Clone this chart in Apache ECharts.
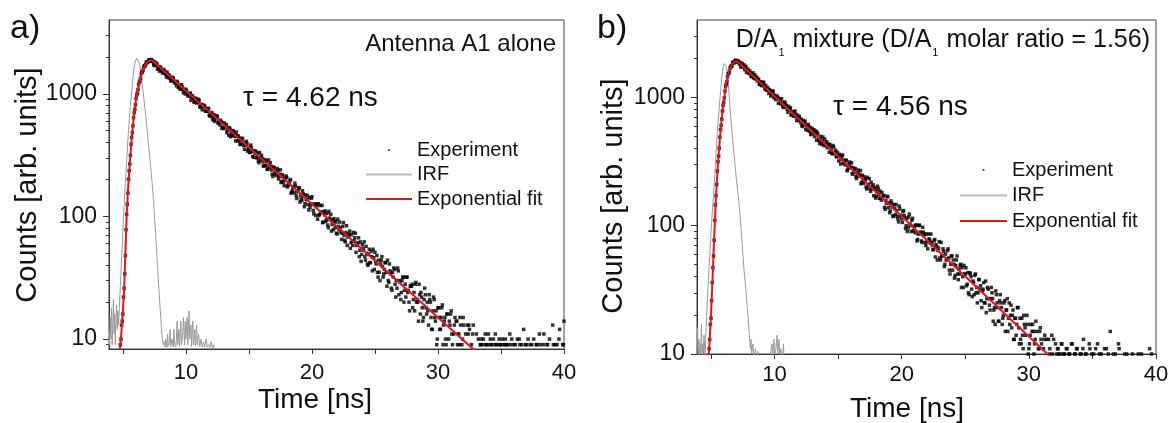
<!DOCTYPE html>
<html>
<head>
<meta charset="utf-8">
<title>Fluorescence decay</title>
<script src="https://cdn.jsdelivr.net/npm/echarts@6/dist/echarts.min.js"></script>
<style>
    html, body { margin: 0; padding: 0; background: #fff; }
    #chart { width: 1169px; height: 423px; }
</style>
</head>
<body>
<div id="chart"></div>
<script>
(function () {
    'use strict';

    // TCSPC channel times [ns], shared by both panels
    var binTimes = [
        4.8, 4.9, 5.0, 5.1, 5.2, 5.3, 5.4, 5.5, 5.6, 5.7,
        5.8, 5.9, 6.0, 6.1, 6.2, 6.3, 6.4, 6.5, 6.6, 6.7,
        6.8, 6.9, 7.0, 7.1, 7.2, 7.3, 7.4, 7.5, 7.6, 7.7,
        7.8, 7.9, 8.0, 8.1, 8.2, 8.3, 8.4, 8.5, 8.6, 8.7,
        8.8, 8.9, 9.0, 9.1, 9.2, 9.3, 9.4, 9.5, 9.6, 9.7,
        9.8, 9.9, 10.0, 10.1, 10.2, 10.3, 10.4, 10.5, 10.6, 10.7,
        10.8, 10.9, 11.0, 11.1, 11.2, 11.3, 11.4, 11.5, 11.6, 11.7,
        11.8, 11.9, 12.0, 12.1, 12.2, 12.3, 12.4, 12.5, 12.6, 12.7,
        12.8, 12.9, 13.0, 13.1, 13.2, 13.3, 13.4, 13.5, 13.6, 13.7,
        13.8, 13.9, 14.0, 14.1, 14.2, 14.3, 14.4, 14.5, 14.6, 14.7,
        14.8, 14.9, 15.0, 15.1, 15.2, 15.3, 15.4, 15.5, 15.6, 15.7,
        15.8, 15.9, 16.0, 16.1, 16.2, 16.3, 16.4, 16.5, 16.6, 16.7,
        16.8, 16.9, 17.0, 17.1, 17.2, 17.3, 17.4, 17.5, 17.6, 17.7,
        17.8, 17.9, 18.0, 18.1, 18.2, 18.3, 18.4, 18.5, 18.6, 18.7,
        18.8, 18.9, 19.0, 19.1, 19.2, 19.3, 19.4, 19.5, 19.6, 19.7,
        19.8, 19.9, 20.0, 20.1, 20.2, 20.3, 20.4, 20.5, 20.6, 20.7,
        20.8, 20.9, 21.0, 21.1, 21.2, 21.3, 21.4, 21.5, 21.6, 21.7,
        21.8, 21.9, 22.0, 22.1, 22.2, 22.3, 22.4, 22.5, 22.6, 22.7,
        22.8, 22.9, 23.0, 23.1, 23.2, 23.3, 23.4, 23.5, 23.6, 23.7,
        23.8, 23.9, 24.0, 24.1, 24.2, 24.3, 24.4, 24.5, 24.6, 24.7,
        24.8, 24.9, 25.0, 25.1, 25.2, 25.3, 25.4, 25.5, 25.6, 25.7,
        25.8, 25.9, 26.0, 26.1, 26.2, 26.3, 26.4, 26.5, 26.6, 26.7,
        26.8, 26.9, 27.0, 27.1, 27.2, 27.3, 27.4, 27.5, 27.6, 27.7,
        27.8, 27.9, 28.0, 28.1, 28.2, 28.3, 28.4, 28.5, 28.6, 28.7,
        28.8, 28.9, 29.0, 29.1, 29.2, 29.3, 29.4, 29.5, 29.6, 29.7,
        29.8, 29.9, 30.0, 30.1, 30.2, 30.3, 30.4, 30.5, 30.6, 30.7,
        30.8, 30.9, 31.0, 31.1, 31.2, 31.3, 31.4, 31.5, 31.6, 31.7,
        31.8, 31.9, 32.0, 32.1, 32.2, 32.3, 32.4, 32.5, 32.6, 32.7,
        32.8, 32.9, 33.0, 33.1, 33.2, 33.3, 33.4, 33.5, 33.6, 33.7,
        33.8, 33.9, 34.0, 34.1, 34.2, 34.3, 34.4, 34.5, 34.6, 34.7,
        34.8, 34.9, 35.0, 35.1, 35.2, 35.3, 35.4, 35.5, 35.6, 35.7,
        35.8, 35.9, 36.0, 36.1, 36.2, 36.3, 36.4, 36.5, 36.6, 36.7,
        36.8, 36.9, 37.0, 37.1, 37.2, 37.3, 37.4, 37.5, 37.6, 37.7,
        37.8, 37.9, 38.0, 38.1, 38.2, 38.3, 38.4, 38.5, 38.6, 38.7,
        38.8, 38.9, 39.0, 39.1, 39.2, 39.3, 39.4, 39.5, 39.6, 39.7,
        39.8, 39.9, 40.0
    ];

    // the in-between channels (odd half-steps of the same histogram)
    var halfTimes = [
        4.85, 4.95, 5.05, 5.15, 5.25, 5.35, 5.45, 5.55, 5.65, 5.75,
        5.85, 5.95, 6.05, 6.15, 6.25, 6.35, 6.45, 6.55, 6.65, 6.75,
        6.85, 6.95, 7.05, 7.15, 7.25, 7.35, 7.45, 7.55, 7.65, 7.75,
        7.85, 7.95, 8.05, 8.15, 8.25, 8.35, 8.45, 8.55, 8.65, 8.75,
        8.85, 8.95, 9.05, 9.15, 9.25, 9.35, 9.45, 9.55, 9.65, 9.75,
        9.85, 9.95, 10.05, 10.15, 10.25, 10.35, 10.45, 10.55, 10.65, 10.75,
        10.85, 10.95, 11.05, 11.15, 11.25, 11.35, 11.45, 11.55, 11.65, 11.75,
        11.85, 11.95, 12.05, 12.15, 12.25, 12.35, 12.45, 12.55, 12.65, 12.75,
        12.85, 12.95, 13.05, 13.15, 13.25, 13.35, 13.45, 13.55, 13.65, 13.75,
        13.85, 13.95, 14.05, 14.15, 14.25, 14.35, 14.45, 14.55, 14.65, 14.75,
        14.85, 14.95, 15.05, 15.15, 15.25, 15.35, 15.45, 15.55, 15.65, 15.75,
        15.85, 15.95, 16.05, 16.15, 16.25, 16.35, 16.45, 16.55, 16.65, 16.75,
        16.85, 16.95, 17.05, 17.15, 17.25, 17.35, 17.45, 17.55, 17.65, 17.75,
        17.85, 17.95, 18.05, 18.15, 18.25, 18.35, 18.45, 18.55, 18.65, 18.75,
        18.85, 18.95, 19.05, 19.15, 19.25, 19.35, 19.45, 19.55, 19.65, 19.75,
        19.85, 19.95, 20.05, 20.15, 20.25, 20.35, 20.45, 20.55, 20.65, 20.75,
        20.85, 20.95, 21.05, 21.15, 21.25, 21.35, 21.45, 21.55, 21.65, 21.75,
        21.85, 21.95, 22.05, 22.15, 22.25, 22.35, 22.45, 22.55, 22.65, 22.75,
        22.85, 22.95, 23.05, 23.15, 23.25, 23.35, 23.45, 23.55, 23.65, 23.75,
        23.85, 23.95, 24.05, 24.15, 24.25, 24.35, 24.45, 24.55, 24.65, 24.75,
        24.85, 24.95, 25.05, 25.15, 25.25, 25.35, 25.45, 25.55, 25.65, 25.75,
        25.85, 25.95, 26.05, 26.15, 26.25, 26.35, 26.45, 26.55, 26.65, 26.75,
        26.85, 26.95, 27.05, 27.15, 27.25, 27.35, 27.45, 27.55, 27.65, 27.75,
        27.85, 27.95, 28.05, 28.15, 28.25, 28.35, 28.45, 28.55, 28.65, 28.75,
        28.85, 28.95, 29.05, 29.15, 29.25, 29.35, 29.45, 29.55, 29.65, 29.75,
        29.85, 29.95, 30.05, 30.15, 30.25, 30.35, 30.45, 30.55, 30.65, 30.75,
        30.85, 30.95, 31.05, 31.15, 31.25, 31.35, 31.45, 31.55, 31.65, 31.75,
        31.85, 31.95, 32.05, 32.15, 32.25, 32.35, 32.45, 32.55, 32.65, 32.75,
        32.85, 32.95, 33.05, 33.15, 33.25, 33.35, 33.45, 33.55, 33.65, 33.75,
        33.85, 33.95, 34.05, 34.15, 34.25, 34.35, 34.45, 34.55, 34.65, 34.75,
        34.85, 34.95, 35.05, 35.15, 35.25, 35.35, 35.45, 35.55, 35.65, 35.75,
        35.85, 35.95, 36.05, 36.15, 36.25, 36.35, 36.45, 36.55, 36.65, 36.75,
        36.85, 36.95, 37.05, 37.15, 37.25, 37.35, 37.45, 37.55, 37.65, 37.75,
        37.85, 37.95, 38.05, 38.15, 38.25, 38.35, 38.45, 38.55, 38.65, 38.75,
        38.85, 38.95, 39.05, 39.15, 39.25, 39.35, 39.45, 39.55, 39.65, 39.75,
        39.85, 39.95
    ];

    // a) antenna A1 alone, counts per channel
    var countsA = [
        9, 13, 16, 26, 48, 104, 155, 236, 315, 442, 548, 702, 815, 978, 1085, 1247, 1342, 1497, 1560, 1689,
        1725, 1822, 1829, 1893, 1861, 1874,
        1843, 1699, 1741, 1765, 1634, 1532, 1628, 1557, 1487, 1536,
        1447, 1507, 1354, 1386, 1278, 1334, 1332, 1232, 1225, 1264,
        1124, 1161, 1093, 1145, 1021, 1075, 1088, 1005, 956, 998,
        884, 967, 918, 870, 915, 850, 903, 789, 821, 741,
        790, 794, 721, 721, 757, 658, 684, 641, 677, 596,
        635, 650, 590, 557, 591, 581, 520, 545, 563, 507,
        460, 516, 486, 457, 490, 449, 487, 413, 437, 386,
        421, 429, 378, 381, 410, 341, 364, 335, 364, 308,
        304, 327, 300, 329, 274, 304, 315, 280, 261, 284,
        281, 242, 261, 275, 239, 212, 249, 231, 216, 237,
        213, 240, 193, 210, 178, 203, 208, 179, 182, 200,
        157, 174, 156, 177, 140, 163, 171, 147, 135, 153,
        120, 150, 137, 125, 142, 126, 145, 112, 125, 102,
        122, 127, 104, 107, 123, 90, 103, 91, 106, 81,
        97, 104, 86, 78, 91, 90, 72, 83, 90, 74,
        73, 89, 64, 74, 58, 72, 76, 61, 63, 74,
        67, 51, 60, 67, 53, 43, 59, 53, 47, 57,
        41, 49, 42, 52, 36, 46, 51, 41, 35, 44,
        30, 44, 39, 34, 42, 35, 44, 29, 36, 26,
        35, 38, 28, 30, 38, 23, 29, 24, 32, 20,
        28, 32, 24, 20, 27, 27, 18, 24, 28, 20,
        20, 28, 16, 22, 14, 21, 23, 16, 17, 23,
        20, 12, 17, 21, 14, 9, 18, 15, 12, 18,
        9, 14, 10, 16, 8, 14, 16, 11, 8, 13,
        6, 14, 11, 9, 13, 9, 15, 7, 11, 5,
        11, 12, 7, 8, 13, 5, 8, 6, 10, 4,
        9, 5, 10, 6, 9, 7, 11, 4, 9, 6,
        10, 5, 9, 7, 3, 9, 6, 10, 4, 9,
        5, 9, 3, 11, 6, 4, 9, 5, 7, 10,
        4, 9, 6, 3, 12, 5, 9, 4, 6, 9,
        3, 5, 10, 4, 9, 2, 6, 9, 4, 3,
        11, 5, 3, 9, 2, 6, 4, 13, 3, 9,
        5, 2, 10, 4, 3, 9, 14
    ];
    var countsA2 = [
        10, 14, 22, 34, 78, 126, 201, 268, 388, 483, 641, 748, 917, 1012, 1189, 1271, 1449, 1508, 1652, 1688,
        1801, 1795, 1887, 1852, 1906, 1829,
        1733, 1817, 1716, 1590, 1670, 1655, 1549, 1479, 1582, 1467,
        1372, 1441, 1426, 1335, 1276, 1366, 1264, 1260, 1163, 1226,
        1150, 1093, 1187, 1089, 1090, 997, 1062, 979, 992, 1016,
        939, 941, 852, 919, 842, 858, 883, 776, 795, 816,
        794, 726, 740, 761, 670, 686, 704, 612, 620, 665,
        661, 575, 592, 610, 524, 533, 578, 537, 483, 526,
        530, 447, 457, 502, 464, 413, 455, 454, 413, 388,
        435, 399, 353, 394, 393, 355, 332, 382, 338, 342,
        341, 341, 305, 284, 332, 292, 296, 257, 292, 259,
        243, 289, 251, 256, 221, 253, 222, 232, 246, 202,
        221, 189, 219, 190, 200, 214, 174, 184, 195, 155,
        163, 174, 187, 148, 159, 171, 131, 138, 162, 145,
        127, 138, 148, 113, 119, 141, 126, 105, 125, 127,
        95, 102, 123, 109, 89, 109, 111, 94, 85, 110,
        94, 76, 94, 96, 81, 73, 95, 78, 81, 65,
        83, 70, 62, 84, 68, 70, 55, 71, 58, 63,
        73, 58, 61, 47, 62, 49, 55, 62, 44, 50,
        40, 54, 42, 47, 54, 37, 43, 48, 32, 35,
        41, 47, 32, 37, 42, 27, 30, 41, 34, 25,
        32, 37, 22, 26, 36, 30, 21, 30, 32, 25,
        22, 32, 25, 17, 27, 28, 21, 17, 29, 21,
        14, 23, 24, 18, 15, 26, 18, 20, 13, 21,
        15, 12, 22, 15, 17, 10, 18, 12, 15, 19,
        13, 15, 9, 16, 10, 13, 17, 9, 11, 15,
        14, 9, 11, 15, 7, 10, 13, 5, 7, 13,
        13, 6, 9, 11, 4, 6, 11, 8, 4, 9,
        10, 9, 6, 11, 9, 5, 9, 10, 7, 9,
        4, 11, 9, 6, 10, 9, 5, 9, 7, 10,
        9, 4, 6, 9, 10, 5, 3, 9, 6, 4,
        10, 5, 9, 3, 6, 9, 4, 10, 3, 5,
        9, 2, 6, 4, 9, 3, 11, 2, 5, 9,
        3, 4, 9, 2, 10, 3, 5, 9, 2, 4,
        9, 3, 12, 2, 5, 9
    ];

    // b) D/A1 mixture, counts per channel
    var countsB = [
        9, 13, 19, 36, 58, 110, 171, 266, 348, 489, 604, 782, 912, 1117, 1262, 1446, 1531, 1689, 1732, 1851,
        1862, 1931, 1898, 1923, 1852,
        1868, 1732, 1737, 1788, 1699, 1564, 1656, 1532, 1550, 1449,
        1551, 1441, 1389, 1438, 1378, 1265, 1316, 1232, 1314, 1209,
        1236, 1136, 1144, 1151, 1023, 1054, 1101, 1035, 960, 1008,
        898, 977, 886, 906, 834, 920, 840, 805, 849, 809,
        728, 772, 711, 781, 704, 726, 661, 669, 675, 592,
        613, 652, 606, 553, 594, 578, 521, 530, 558, 523,
        463, 517, 460, 477, 432, 490, 440, 420, 450, 426,
        373, 408, 368, 421, 369, 387, 343, 351, 359, 302,
        349, 307, 315, 324, 268, 287, 313, 286, 255, 282,
        276, 240, 248, 271, 248, 212, 247, 214, 225, 200,
        238, 207, 195, 218, 203, 171, 194, 170, 203, 174,
        186, 158, 165, 172, 134, 149, 168, 151, 130, 150,
        119, 146, 122, 131, 113, 142, 120, 113, 129, 120,
        95, 114, 96, 123, 100, 110, 91, 96, 101, 76,
        86, 101, 89, 74, 89, 86, 70, 75, 86, 77,
        86, 70, 65, 78, 71, 54, 67, 56, 74, 58,
        63, 50, 54, 64, 56, 42, 58, 45, 50, 41,
        54, 42, 46, 49, 33, 40, 49, 42, 34, 43,
        29, 42, 32, 37, 29, 42, 33, 30, 38, 34,
        23, 32, 25, 37, 27, 32, 24, 27, 30, 18,
        23, 31, 25, 18, 26, 25, 17, 20, 26, 22,
        27, 19, 17, 24, 20, 13, 19, 14, 23, 16,
        19, 12, 14, 20, 16, 9, 17, 11, 14, 9,
        17, 10, 13, 15, 7, 11, 16, 12, 8, 13,
        6, 13, 7, 10, 6, 14, 9, 7, 12, 10,
        11, 7, 10, 12, 6, 10, 8, 11, 5, 10,
        7, 12, 6, 10, 4, 11, 8, 5, 10, 7,
        13, 6, 10, 4, 8, 11, 5, 7, 10, 3,
        6, 12, 4, 8, 10, 5, 3, 7, 11, 4,
        6, 15, 5, 8, 3, 10, 4, 6, 11, 2,
        5, 7, 3, 4, 10, 2, 6, 3, 5, 2,
        4, 7, 3, 10, 2, 5, 3, 6, 2, 4,
        3, 5, 11, 2, 4, 3, 6, 2
    ];
    var countsB2 = [
        11, 17, 26, 47, 77, 145, 209, 315, 402, 561, 676, 866, 991, 1215, 1327, 1522, 1583, 1741, 1762, 1882,
        1858, 1943, 1879, 1912, 1818,
        1719, 1836, 1734, 1641, 1741, 1641, 1558, 1604, 1460, 1514,
        1412, 1498, 1412, 1340, 1380, 1256, 1302, 1252, 1295, 1160,
        1148, 1192, 1073, 1123, 1076, 1124, 992, 999, 1029, 994,
        968, 925, 974, 846, 856, 889, 857, 764, 805, 826,
        729, 737, 766, 738, 658, 694, 711, 635, 601, 661,
        636, 561, 596, 615, 543, 512, 572, 531, 494, 546,
        533, 465, 436, 495, 457, 422, 472, 434, 404, 431,
        429, 393, 362, 410, 375, 347, 372, 319, 347, 329,
        355, 323, 297, 321, 272, 300, 282, 308, 252, 261,
        278, 233, 258, 243, 268, 217, 224, 241, 230, 193,
        210, 232, 185, 192, 208, 198, 164, 184, 194, 163,
        164, 181, 171, 139, 157, 169, 138, 126, 156, 139,
        118, 136, 146, 118, 107, 135, 120, 106, 131, 115,
        100, 90, 117, 103, 90, 114, 99, 88, 101, 78,
        100, 87, 76, 97, 84, 74, 86, 66, 79, 73,
        74, 65, 76, 57, 69, 64, 75, 54, 58, 66,
        48, 60, 55, 66, 45, 50, 58, 54, 39, 49,
        58, 38, 42, 50, 47, 33, 42, 47, 35, 30,
        43, 40, 28, 36, 41, 30, 25, 38, 32, 26,
        31, 36, 25, 21, 33, 27, 22, 33, 27, 22,
        17, 29, 23, 18, 29, 23, 19, 25, 15, 22,
        15, 25, 20, 16, 22, 13, 19, 17, 23, 12,
        13, 19, 11, 17, 14, 20, 10, 12, 17, 15,
        15, 12, 18, 8, 11, 15, 13, 7, 11, 14,
        7, 9, 13, 11, 5, 10, 13, 7, 5, 11,
        10, 6, 12, 8, 10, 5, 11, 7, 10, 4,
        12, 8, 6, 10, 11, 5, 7, 10, 3, 11,
        6, 10, 8, 4, 12, 6, 10, 5, 3, 11,
        7, 4, 10, 6, 2, 8, 11, 5, 3, 10,
        4, 7, 2, 10, 5, 3, 6, 12, 2, 4,
        7, 3, 10, 5, 2, 6, 4, 3, 10, 2,
        5, 3, 7, 2, 4, 10, 3, 2, 5, 6,
        2, 4, 3, 10, 2, 5, 3
    ];

    // instrument response [ns, counts]
    var irfA = [
        [3.9, 12], [3.95, 9], [4.0, 15], [4.05, 10], [4.1, 18], [4.15, 9], [4.2, 13], [4.25, 21], [4.3, 11], [4.35, 16],
        [4.4, 9], [4.45, 14], [4.5, 19], [4.55, 12], [4.6, 17], [4.65, 13], [4.7, 16], [4.8, 27], [4.9, 45], [5.0, 75],
        [5.1, 125], [5.2, 190], [5.3, 280], [5.4, 420], [5.5, 600], [5.6, 800], [5.7, 1050], [5.8, 1350], [5.9, 1650], [6.0, 1860],
        [6.1, 1950], [6.2, 1930], [6.3, 1800], [6.4, 1580], [6.5, 1300], [6.6, 1050], [6.7, 850], [6.8, 690], [6.9, 540], [7.0, 420],
        [7.1, 330], [7.2, 260], [7.3, 200], [7.4, 150], [7.5, 105], [7.6, 72], [7.7, 48], [7.8, 32], [7.9, 22], [8.0, 15],
        [8.1, 11], [8.2, 9], [8.3, 9.5], [8.35, 8.6], [8.4, 10], [8.5, 8.6], [8.55, 11], [8.6, 8.8], [8.7, 9.5], [8.75, 12],
        [8.8, 8.7], [8.9, 10], [9.0, 8.6], [9.05, 12], [9.1, 9], [9.2, 8.6], [9.25, 10], [9.3, 14], [9.35, 9], [9.45, 12],
        [9.5, 8.7], [9.6, 14], [9.65, 9], [9.75, 11], [9.8, 15], [9.9, 9], [9.95, 14], [10.0, 10], [10.1, 15], [10.15, 9],
        [10.25, 17], [10.3, 10], [10.4, 13], [10.45, 8.7], [10.55, 14], [10.6, 9], [10.7, 12], [10.75, 8.8], [10.85, 13], [10.9, 9],
        [11.0, 11], [11.1, 8.7], [11.2, 10], [11.3, 8.6], [11.4, 9.5], [11.5, 8.6], [11.6, 10], [11.7, 8.6], [11.8, 9], [11.9, 8.5],
        [12.0, 9.5], [12.1, 8.5], [12.2, 9], [12.3, 7]
    ];
    var irfB = [
        [3.9, 11], [3.95, 16], [4.0, 9], [4.05, 13], [4.1, 9.5], [4.15, 12], [4.2, 10], [4.25, 17], [4.3, 9], [4.35, 12],
        [4.4, 10], [4.45, 14], [4.5, 11], [4.55, 9.5], [4.6, 15], [4.65, 18], [4.7, 24], [4.75, 31], [4.8, 38], [4.9, 58],
        [5.0, 88], [5.1, 125], [5.2, 175], [5.3, 250], [5.4, 360], [5.5, 540], [5.6, 720], [5.7, 950], [5.8, 1250], [5.9, 1600],
        [6.0, 1830], [6.05, 1890], [6.1, 1880], [6.2, 1750], [6.3, 1500], [6.4, 1150], [6.5, 820], [6.6, 620], [6.7, 470], [6.8, 370],
        [6.9, 290], [7.0, 230], [7.1, 185], [7.2, 150], [7.3, 115], [7.4, 85], [7.5, 62], [7.6, 45], [7.7, 35], [7.8, 27],
        [7.9, 20], [8.0, 15], [8.1, 11], [8.15, 13], [8.2, 10], [8.3, 12], [8.4, 9], [8.5, 11], [8.6, 8], [8.7, 10.5],
        [8.8, 8], [8.9, 7], [9.0, 8], [9.2, 6], [9.4, 7], [9.6, 8], [9.7, 10.5], [9.8, 12], [9.85, 9], [9.95, 13],
        [10.0, 9.5], [10.1, 11], [10.2, 14], [10.25, 10], [10.35, 13], [10.4, 9.5], [10.5, 11], [10.6, 8], [10.7, 12], [10.8, 6],
        [11.0, 5]
    ];

    // single exponential fits (tau = 4.62 ns and 4.56 ns)
    var fitA = [
        [4.7, 7], [4.8, 9], [4.9, 12], [5.0, 17], [5.1, 25], [5.2, 50], [5.3, 100], [5.4, 160], [5.5, 230], [5.6, 320],
        [5.7, 430], [5.8, 560], [5.9, 690], [6.0, 830], [6.1, 960], [6.2, 1100], [6.3, 1230], [6.4, 1360], [6.5, 1480], [6.6, 1580],
        [6.7, 1670], [6.8, 1740], [6.9, 1800], [7.0, 1840], [7.1, 1870], [7.2, 1880], [7.3, 1860], [7.4, 1840], [33.2, 7.6]
    ];
    var fitB = [
        [4.7, 7], [4.8, 9.3], [4.9, 13], [5.0, 20], [5.1, 34], [5.2, 60], [5.3, 105], [5.4, 175], [5.5, 255], [5.6, 355],
        [5.7, 475], [5.8, 615], [5.9, 765], [6.0, 925], [6.1, 1095], [6.2, 1280], [6.3, 1425], [6.4, 1555], [6.5, 1665], [6.6, 1755],
        [6.7, 1825], [6.8, 1875], [6.9, 1905], [7.0, 1915], [7.1, 1900], [7.2, 1870], [32.0, 8.9]
    ];

    var xTickValues = [5, 10, 15, 20, 25, 30, 35, 40];
    var xLabelValues = [10, 20, 30, 40];
    var yMajorValues = [10, 100, 1000];
    var yMinorValuesA = [9, 20, 30, 40, 50, 60, 70, 80, 90, 200, 300, 400, 500, 600, 700, 800, 900, 2000, 3000];
    var yMinorValuesB = [20, 30, 40, 50, 60, 70, 80, 90, 200, 300, 400, 500, 600, 700, 800, 900, 2000, 3000];

    var FONT = '"Liberation Sans", Arial, Helvetica, sans-serif';
    var AXIS_COLOR = '#333';
    var TEXT_COLOR = '#111';
    var RED = '#e8141c';
    var IRF_GRAY = '#9a9a9a';

    var pairs = function (times, counts) {
        return times.map(function (t, i) {
            return [t, counts[i]];
        });
    };

    var xAxisFor = function (gridIndex, labelMargin) {
        return {
            type: 'value',
            gridIndex: gridIndex,
            min: 3.9,
            max: 40,
            axisLine: { show: true, onZero: false, lineStyle: { color: AXIS_COLOR, width: 1 } },
            axisTick: { show: true, length: 5, customValues: xTickValues, lineStyle: { color: AXIS_COLOR } },
            axisLabel: { customValues: xLabelValues, margin: labelMargin, fontSize: 22, fontFamily: FONT, color: TEXT_COLOR },
            splitLine: { show: false }
        };
    };

    var yMajorAxis = function (gridIndex, min) {
        return {
            type: 'log',
            logBase: 10,
            gridIndex: gridIndex,
            position: 'left',
            min: min,
            max: 4000,
            axisLine: { show: true, onZero: false, lineStyle: { color: AXIS_COLOR, width: 1 } },
            axisTick: { show: true, length: 6, customValues: yMajorValues, lineStyle: { color: AXIS_COLOR } },
            axisLabel: {
                customValues: yMajorValues,
                margin: 12,
                fontSize: 23,
                fontFamily: FONT,
                color: TEXT_COLOR,
                formatter: function (value) {
                    return String(Math.round(value));
                }
            },
            splitLine: { show: false }
        };
    };

    var yMinorAxis = function (gridIndex, min, minorValues) {
        return {
            type: 'log',
            logBase: 10,
            gridIndex: gridIndex,
            position: 'left',
            offset: 0,
            min: min,
            max: 4000,
            axisLine: { show: false },
            axisTick: { show: true, length: 3, customValues: minorValues, lineStyle: { color: AXIS_COLOR } },
            axisLabel: { show: false },
            splitLine: { show: false }
        };
    };

    var panelSeries = function (index, experiment, irf, fit) {
        return [{
            name: 'IRF',
            type: 'line',
            xAxisIndex: index,
            yAxisIndex: index * 2,
            data: irf,
            symbol: 'none',
            lineStyle: { color: IRF_GRAY, width: 1 },
            itemStyle: { color: IRF_GRAY },
            clip: true,
            z: 1
        }, {
            name: 'Experiment',
            type: 'scatter',
            xAxisIndex: index,
            yAxisIndex: index * 2,
            data: experiment,
            symbol: 'rect',
            symbolSize: 3.5,
            itemStyle: { color: '#000' },
            clip: true,
            z: 2
        }, {
            name: 'Exponential fit',
            type: 'line',
            xAxisIndex: index,
            yAxisIndex: index * 2,
            data: fit,
            symbol: 'none',
            lineStyle: { color: RED, width: 2 },
            itemStyle: { color: RED },
            clip: true,
            z: 3
        }];
    };

    var legendItems = [
        { name: 'Experiment', icon: 'circle', itemStyle: { color: '#000' } },
        { name: 'IRF', icon: 'rect', itemStyle: { color: '#bbb' } },
        { name: 'Exponential fit', icon: 'rect', itemStyle: { color: RED } }
    ];

    var legendFor = function (left, top, gap, width) {
        return {
            orient: 'vertical',
            left: left,
            top: top,
            itemWidth: width,
            itemHeight: 2,
            itemGap: gap,
            selectedMode: false,
            itemStyle: { borderWidth: 0 },
            textStyle: { fontSize: 20, lineHeight: 20, fontFamily: FONT, color: TEXT_COLOR },
            data: legendItems
        };
    };

    var label = function (text, x, y, size, align, extra) {
        var el = {
            type: 'text',
            x: x,
            y: y,
            z: 10,
            style: {
                text: text,
                fontSize: size,
                fontFamily: FONT,
                fill: TEXT_COLOR,
                align: align,
                verticalAlign: 'middle'
            }
        };
        if (extra) {
            if (extra.rotation) {
                el.rotation = extra.rotation;
            }
            if (extra.style) {
                Object.keys(extra.style).forEach(function (k) {
                    el.style[k] = extra.style[k];
                });
            }
        }
        return el;
    };

    var chart = echarts.init(document.getElementById('chart'), null, { renderer: 'canvas' });

    var experimentA = pairs(binTimes, countsA).concat(pairs(halfTimes, countsA2));
    var experimentB = pairs(binTimes, countsB).concat(pairs(halfTimes, countsB2));

    chart.setOption({
        animation: false,
        backgroundColor: '#fff',
        grid: [
            { left: 109, top: 20, width: 455, height: 329, show: true, borderColor: '#444', borderWidth: 1, outerBoundsMode: 'none' },
            { left: 697, top: 20, width: 459, height: 334, show: true, borderColor: '#444', borderWidth: 1, outerBoundsMode: 'none' }
        ],
        xAxis: [xAxisFor(0, 13), xAxisFor(1, 10)],
        yAxis: [
            yMajorAxis(0, 8.3), yMinorAxis(0, 8.3, yMinorValuesA),
            yMajorAxis(1, 10), yMinorAxis(1, 10, yMinorValuesB)
        ],
        legend: [legendFor(361, 135, 4.5, 46), legendFor(955, 155, 5.5, 47)],
        series: panelSeries(0, experimentA, irfA, fitA).concat(panelSeries(1, experimentB, irfB, fitB)),
        graphic: [
            label('a)', 10, 29, 34, 'left'),
            label('b)', 597, 29, 34, 'left'),
            label('Antenna A1 alone', 556, 44, 24, 'right'),
            label('τ = 4.62 ns', 243, 98, 28, 'left'),
            label('D/A{s|1} mixture (D/A{s|1} molar ratio = 1.56)', 1150, 40, 25, 'right', {
                style: { lineHeight: 30, rich: { s: { fontSize: 11, lineHeight: 11, fontFamily: FONT, padding: [26, 1, 0, 1] } } }
            }),
            label('τ = 4.56 ns', 833, 107, 28, 'left'),
            label('Counts [arb. units]', 28, 185, 29, 'center', { rotation: Math.PI / 2 }),
            label('Counts [arb. units]', 614, 196, 29, 'center', { rotation: Math.PI / 2 }),
            label('Time [ns]', 315, 400, 28, 'center'),
            label('Time [ns]', 907, 409, 28, 'center')
        ]
    });

    window.addEventListener('resize', function () {
        chart.resize();
    });
}());
</script>
</body>
</html>
